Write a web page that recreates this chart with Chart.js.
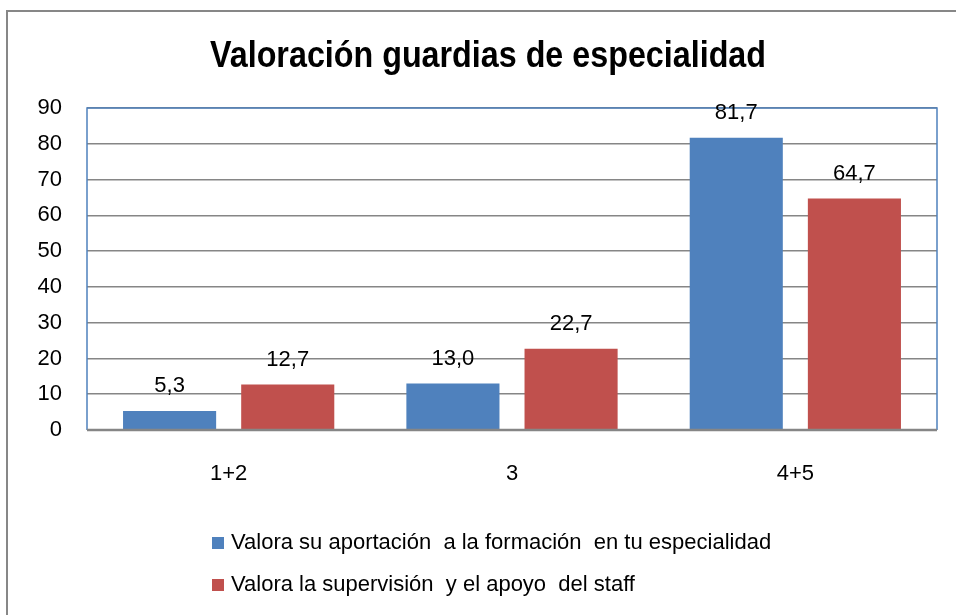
<!DOCTYPE html>
<html>
<head>
<meta charset="utf-8">
<script src="https://cdn.jsdelivr.net/npm/chart.js@4/dist/chart.umd.min.js"></script>
<style>
  html, body { margin: 0; padding: 0; background: #fff; }
  canvas { display: block; }
</style>
</head>
<body>
<canvas id="guardiasChart" width="956" height="615"></canvas>
<script>
const chartTitle = 'Valoración guardias de especialidad';
const categories = ['1+2', '3', '4+5'];
const seriesNames = [
    'Valora su aportación  a la formación  en tu especialidad',
    'Valora la supervisión  y el apoyo  del staff'
];
const aportacion = [5.3, 13.0, 81.7];
const supervision = [12.7, 22.7, 64.7];
const yMin = 0;
const yMax = 90;
const yStep = 10;

const BLUE = '#4F81BD';
const RED = '#C0504D';
const GRID = '#868686';
const FONT = "'Liberation Sans', Arial, sans-serif";

// frame, plot border, title, value labels and legend
const decorations = {
    id: 'decorations',
    beforeDraw(chart) {
        const c = chart.ctx;
        c.save();
        c.fillStyle = '#fff';
        c.fillRect(0, 0, chart.width, chart.height);
        c.strokeStyle = '#878787';
        c.lineWidth = 2;
        c.beginPath();
        c.moveTo(6, 11);
        c.lineTo(chart.width, 11);
        c.moveTo(7, 10);
        c.lineTo(7, chart.height);
        c.stroke();
        c.restore();
    },
    afterDatasetsDraw(chart) {
        const c = chart.ctx;
        const a = chart.chartArea;
        c.save();
        // plot area border
        c.strokeStyle = BLUE;
        c.lineWidth = 1.5;
        c.beginPath();
        c.moveTo(a.left, a.bottom);
        c.lineTo(a.left, a.top);
        c.lineTo(a.right, a.top);
        c.lineTo(a.right, a.bottom);
        c.stroke();
        c.strokeStyle = GRID;
        c.lineWidth = 2.5;
        c.beginPath();
        c.moveTo(a.left, a.bottom);
        c.lineTo(a.right, a.bottom);
        c.stroke();

        // value labels
        c.fillStyle = '#000';
        c.font = '22px ' + FONT;
        c.textAlign = 'center';
        c.textBaseline = 'middle';
        chart.data.datasets.forEach((ds, i) => {
            chart.getDatasetMeta(i).data.forEach((bar, j) => {
                c.fillText(ds.data[j].toFixed(1).replace('.', ','), bar.x, bar.y - 25);
            });
        });
        c.restore();
    },
    afterDraw(chart) {
        const c = chart.ctx;
        c.save();
        c.fillStyle = '#000';
        c.textAlign = 'center';
        c.textBaseline = 'middle';
        // title is condensed a little to get Calibri-like proportions
        c.font = 'bold 36px ' + FONT;
        const w = c.measureText(chartTitle).width;
        const sx = 556 / w;
        c.save();
        c.translate(488, 57);
        c.scale(sx, 1);
        c.fillText(chartTitle, 0, 0);
        c.restore();

        c.textAlign = 'left';
        c.font = '22px ' + FONT;
        chart.data.datasets.forEach((ds, i) => {
            const y = 543 + i * 42;
            c.fillStyle = ds.backgroundColor;
            c.fillRect(212, y - 6, 12, 12);
            c.fillStyle = '#000';
            c.fillText(ds.label, 231, y);
        });
        c.restore();
    }
};

new Chart(document.getElementById('guardiasChart'), {
    type: 'bar',
    data: {
        labels: categories,
        datasets: [{
            label: seriesNames[0],
            data: aportacion,
            backgroundColor: BLUE,
            categoryPercentage: 0.834,
            barPercentage: 0.788
        }, {
            label: seriesNames[1],
            data: supervision,
            backgroundColor: RED,
            categoryPercentage: 0.834,
            barPercentage: 0.788
        }]
    },
    options: {
        responsive: false,
        animation: false,
        layout: {
            padding: { left: 0, top: 108, right: 19, bottom: 123 }
        },
        plugins: {
            legend: { display: false },
            title: { display: false },
            tooltip: { enabled: false }
        },
        scales: {
            x: {
                grid: { display: false },
                border: { display: false },
                ticks: {
                    color: '#000',
                    font: { family: FONT, size: 22 },
                    padding: 23
                },
                afterFit(scale) { scale.height = 62; }
            },
            y: {
                min: yMin,
                max: yMax,
                grid: { color: GRID, lineWidth: 1.5, drawTicks: false },
                border: { display: false },
                ticks: {
                    stepSize: yStep,
                    color: '#000',
                    font: { family: FONT, size: 22 },
                    padding: 25
                },
                afterFit(scale) { scale.width = 87; }
            }
        }
    },
    plugins: [decorations]
});
</script>
</body>
</html>
